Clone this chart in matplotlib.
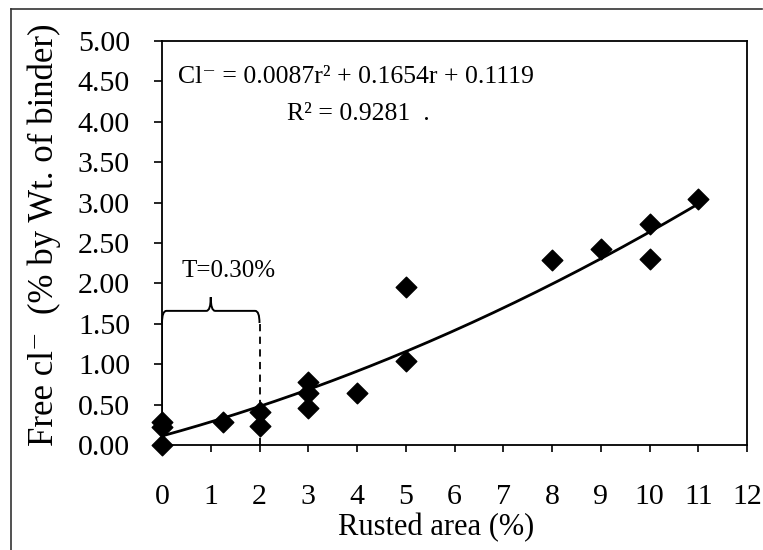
import matplotlib
matplotlib.use("Agg")
import matplotlib.pyplot as plt
import numpy as np
from matplotlib.path import Path
from matplotlib.patches import PathPatch
from matplotlib.lines import Line2D

plt.rcParams['font.family'] = ['Liberation Serif', 'DejaVu Serif']

# Data (rusted area %, free chloride %)
rusted = [0, 0, 0, 1.25, 2, 2, 3, 3, 3, 4, 5, 5, 8, 9, 10, 10, 11]
chloride = [0.0, 0.22, 0.28, 0.29, 0.41, 0.23, 0.78, 0.64, 0.46, 0.64,
            1.95, 1.04, 2.29, 2.43, 2.73, 2.30, 3.04]
fit_coef = [0.0087, 0.1654, 0.1119]  # a r^2 + b r + c
fit_range = [0, 11]
x_ticks = list(range(0, 13))
y_ticks = [0.0, 0.5, 1.0, 1.5, 2.0, 2.5, 3.0, 3.5, 4.0, 4.5, 5.0]
threshold_range = [0, 2]
threshold_label = "T=0.30%"

fig = plt.figure(figsize=(7.63, 5.50), dpi=100)
ax = fig.add_axes([162/763, 1-445/550, (747-162)/763, (445-41)/550])

ax.scatter(rusted, chloride, marker='D', s=110, color='black', zorder=5, clip_on=False)
r = np.linspace(fit_range[0], fit_range[1], 200)
ax.plot(r, np.polyval(fit_coef, r), color='black', lw=2.0, zorder=4)

ax.set_xlim(0, 12)
ax.set_ylim(0, 5)
ax.set_xticks(x_ticks)
ax.set_yticks(y_ticks)
ax.set_yticklabels([f"{v:.2f}" for v in y_ticks])
ax.tick_params(axis='x', direction='out', length=5, width=1.2, pad=23, labelsize=21.5)
ax.tick_params(axis='y', direction='out', length=6, width=1.2, pad=17, labelsize=21.5)
for s in ax.spines.values():
    s.set_linewidth(1.3)

ax.set_xlabel("Rusted area (%)", fontsize=22)
ax.xaxis.set_label_coords((436-162)/585, (445-528)/404)
ax.xaxis.label.set_va('center')
ax.set_ylabel("Free cl\u207b  (% by Wt. of binder)", fontsize=25)
ax.yaxis.set_label_coords((44-162)/585, (445-235)/404)
ax.yaxis.label.set_va('center')

eq = "Cl\u207b = %.4fr\u00b2 + %.4fr + %.4f" % tuple(fit_coef)
ax.text(0.33, 4.56, eq, fontsize=18.5, va='center', ha='left')
ax.text(2.57, 4.1, "R\u00b2 = 0.9281  .", fontsize=18.5, va='center', ha='left')

# threshold brace
x0, x1 = threshold_range
xm = (x0 + x1) / 2
yb = 1.66
ytop = 1.83
dx = 0.09
dy = 0.15
verts = [
    (x0, yb - dy), (x0, yb), (x0 + dx, yb),
    (xm - dx, yb), (xm, yb), (xm, ytop),
    (xm, yb), (xm + dx, yb),
    (x1 - dx, yb), (x1, yb), (x1, yb - dy),
]
codes = [Path.MOVETO, Path.CURVE3, Path.CURVE3,
         Path.LINETO, Path.CURVE3, Path.CURVE3,
         Path.CURVE3, Path.CURVE3,
         Path.LINETO, Path.CURVE3, Path.CURVE3]
ax.add_patch(PathPatch(Path(verts, codes), facecolor='none', edgecolor='black', lw=1.4, clip_on=False))
ax.plot([x1, x1], [0, yb - dy], ls=(0, (4, 3)), color='black', lw=1.3)
ax.plot([x0, x0], [0, yb - dy], color='black', lw=1.3)
ax.text(x0 + 0.4, 2.15, threshold_label, fontsize=18, va='center', ha='left')

# outer frame
fig.add_artist(Line2D([11/763, 11/763], [0, 1-9/550], color='#333333', lw=1.2))
fig.add_artist(Line2D([11/763, 762/763], [1-9/550, 1-9/550], color='#333333', lw=1.2))

fig.savefig("out.png", dpi=100)
